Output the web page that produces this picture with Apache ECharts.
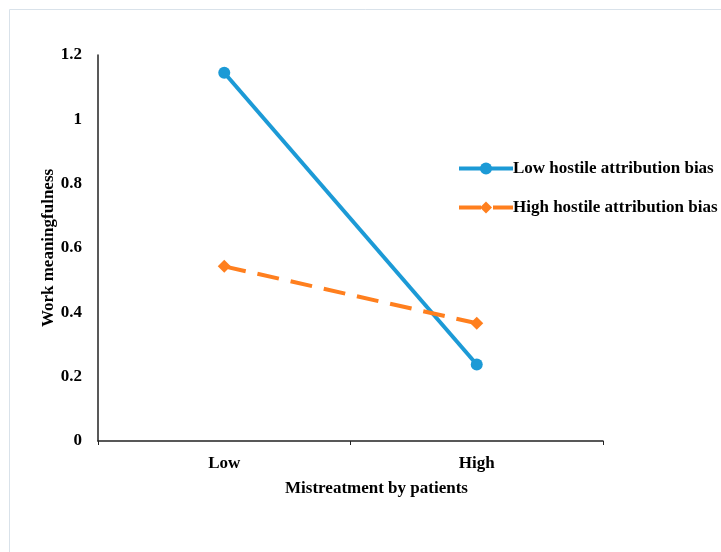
<!DOCTYPE html>
<html>
<head>
<meta charset="utf-8">
<script src="https://cdn.jsdelivr.net/npm/echarts@6/dist/echarts.min.js"></script>
<style>html,body{margin:0;padding:0;background:#fff}#c{width:721px;height:552px}</style>
</head>
<body>
<div id="c"></div>
<script>
var categories = ['Low', 'High'];
var lowBias = [1.145, 0.238];
var highBias = [0.543, 0.366];
var yTicks = [0, 0.2, 0.4, 0.6, 0.8, 1, 1.2];

var font = '"Liberation Serif", "Times New Roman", serif';
var chart = echarts.init(document.getElementById('c'));
chart.setOption({
  animation: false,
  backgroundColor: '#fff',
  graphic: [{
    type: 'rect', shape: {x: 9.5, y: 9.5, width: 800, height: 700},
    style: {fill: 'none', stroke: '#d9e2ea', lineWidth: 1}, silent: true, z: -1
  }],
  grid: {left: 98, right: 118, top: 55, bottom: 111},
  legend: {
    orient: 'vertical', left: 452, top: 155, itemGap: 22,
    itemWidth: 54, itemHeight: 15,
    lineStyle: {width: 4},
    textStyle: {fontFamily: font, fontWeight: 'bold', fontSize: 17, color: '#000', padding: [0,0,0,-5]},
    data: ['Low hostile attribution bias', 'High hostile attribution bias']
  },
  xAxis: {
    type: 'category', data: categories, boundaryGap: true,
    name: 'Mistreatment by patients', nameLocation: 'middle', nameGap: 39,
    nameTextStyle: {fontFamily: font, fontWeight: 'bold', fontSize: 17, color: '#000', padding: [0,0,0,52]},
    axisLine: {lineStyle: {color: '#222', width: 1.5}},
    axisTick: {show: true, length: 4, lineStyle: {color: '#222'}},
    axisLabel: {fontFamily: font, fontWeight: 'bold', fontSize: 17, color: '#000', margin: 14}
  },
  yAxis: {
    type: 'value', min: 0, max: 1.2, interval: 0.2,
    name: 'Work meaningfulness', nameLocation: 'middle', nameGap: 41, nameMoveOverlap: false,
    nameTextStyle: {fontFamily: font, fontWeight: 'bold', fontSize: 17, color: '#000'},
    axisLine: {show: true, lineStyle: {color: '#222', width: 1.5}},
    axisTick: {show: false},
    splitLine: {show: false},
    axisLabel: {fontFamily: font, fontWeight: 'bold', fontSize: 17, color: '#000', margin: 16,
      formatter: function (v) { var s = yTicks.find(function(t){return Math.abs(t - v) < 1e-9;}); return s === undefined ? '' : String(Math.round(s*10)/10); }}
  },
  series: [{
    name: 'Low hostile attribution bias', type: 'line', data: lowBias,
    symbol: 'circle', symbolSize: 12,
    itemStyle: {color: '#1c9ad6'},
    lineStyle: {color: '#1c9ad6', width: 4}
  }, {
    name: 'High hostile attribution bias', type: 'line', data: highBias,
    symbol: 'diamond', symbolSize: 13,
    itemStyle: {color: '#ff7f1e'},
    lineStyle: {color: '#ff7f1e', width: 4, type: [22, 12]}
  }]
});
</script>
</body>
</html>
